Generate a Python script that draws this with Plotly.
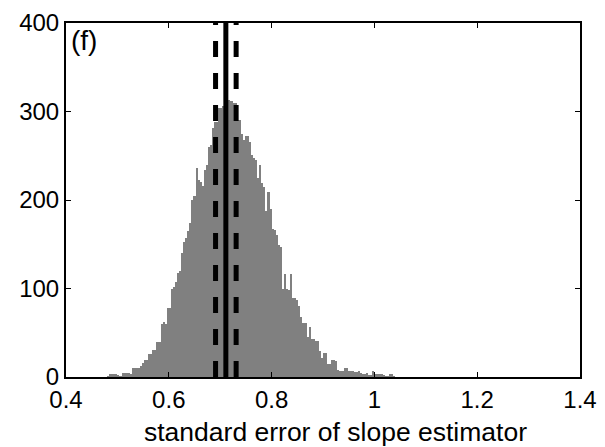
import numpy as np
import plotly.graph_objects as go

# Histogram of the standard error of the slope estimator
bin_start = 0.480
bin_width = 0.004
counts = [
    1, 3, 3, 3, 3, 2, 1, 4, 5, 5,
    5, 3, 10, 10, 10, 10, 12, 16, 19, 19,
    26, 26, 30, 30, 39, 39, 60, 62, 60, 78,
    78, 100, 102, 107, 117, 120, 140, 152, 157, 165,
    174, 200, 205, 236, 223, 220, 216, 234, 240, 260,
    262, 281, 288, 288, 304, 304, 306, 308, 312, 313,
    312, 310, 310, 290, 290, 275, 268, 272, 272, 265,
    251, 247, 245, 225, 240, 219, 215, 188, 209, 190,
    167, 166, 160, 149, 147, 100, 116, 100, 98, 116,
    89, 89, 87, 80, 68, 61, 61, 45, 57, 43,
    43, 41, 41, 29, 21, 27, 27, 15, 15, 19,
    19, 18, 8, 7, 7, 10, 10, 7, 7, 7,
    6, 6, 7, 5, 3, 3, 5, 2, 2, 7,
    3, 3, 3, 3, 2, 1, 1, 3, 3, 1,
]
centers = [bin_start + bin_width * (i + 0.5) for i in range(len(counts))]

# Reference lines: estimate (solid) and interval (dashed)
solid_x = 0.711
dashed_x = [0.691, 0.731]
line_y = [0, 400]

x_ticks = [0.4, 0.6, 0.8, 1.0, 1.2, 1.4]
x_tick_labels = ["0.4", "0.6", "0.8", "1", "1.2", "1.4"]
y_ticks = [0, 100, 200, 300, 400]
y_tick_labels = ["0", "100", "200", "300", "400"]

panel_label = "(f)"
x_title = "standard error of slope estimator"

FONT = "Liberation Sans, Arial, Helvetica, sans-serif"

fig = go.Figure()
fig.add_trace(go.Bar(
    x=centers, y=counts, width=bin_width,
    marker=dict(color="#808080", line=dict(width=0)),
    showlegend=False, hoverinfo="x+y",
))
for dx in dashed_x:
    fig.add_trace(go.Scatter(
        x=[dx, dx], y=line_y, mode="lines",
        line=dict(color="black", width=5, dash="16px,16px"),
        showlegend=False,
    ))
fig.add_trace(go.Scatter(
    x=[solid_x, solid_x], y=line_y, mode="lines",
    line=dict(color="black", width=5),
    showlegend=False,
))

fig.add_annotation(
    x=0.0, y=1.0, xref="paper", yref="paper",
    xanchor="left", yanchor="top", xshift=3, yshift=0,
    text=panel_label, showarrow=False,
    font=dict(family=FONT, size=28, color="black"),
)

# x-axis title (placed as annotation to match its horizontal offset)
fig.add_annotation(
    x=0.5, y=0.0, xref="paper", yref="paper",
    xanchor="center", yanchor="top", xshift=12, yshift=-38,
    text=x_title, showarrow=False,
    font=dict(family=FONT, size=26.5, color="black"),
)

# the page body adds an 8px offset, so margins are reduced by 8px on left/top
fig.update_layout(
    width=605, height=447,
    margin=dict(l=58, r=33, t=15, b=78, autoexpand=False),
    paper_bgcolor="white", plot_bgcolor="white",
    bargap=0,
    font=dict(family=FONT, size=24, color="black"),
    xaxis=dict(
        range=[0.4, 1.4], tickvals=x_ticks, ticktext=x_tick_labels,
        ticks="inside", ticklen=5, tickwidth=1, tickcolor="black",
        showline=True, linecolor="black", linewidth=2, mirror="allticks",
        showgrid=False, zeroline=False, automargin=False,
        tickfont=dict(family=FONT, size=24),
    ),
    yaxis=dict(
        range=[0, 400], tickvals=y_ticks, ticktext=y_tick_labels,
        ticks="inside", ticklen=5, tickwidth=1, tickcolor="black",
        showline=True, linecolor="black", linewidth=2, mirror="allticks",
        showgrid=False, zeroline=False, automargin=False,
        tickfont=dict(family=FONT, size=24),
    ),
)

fig.write_html("out.html")
